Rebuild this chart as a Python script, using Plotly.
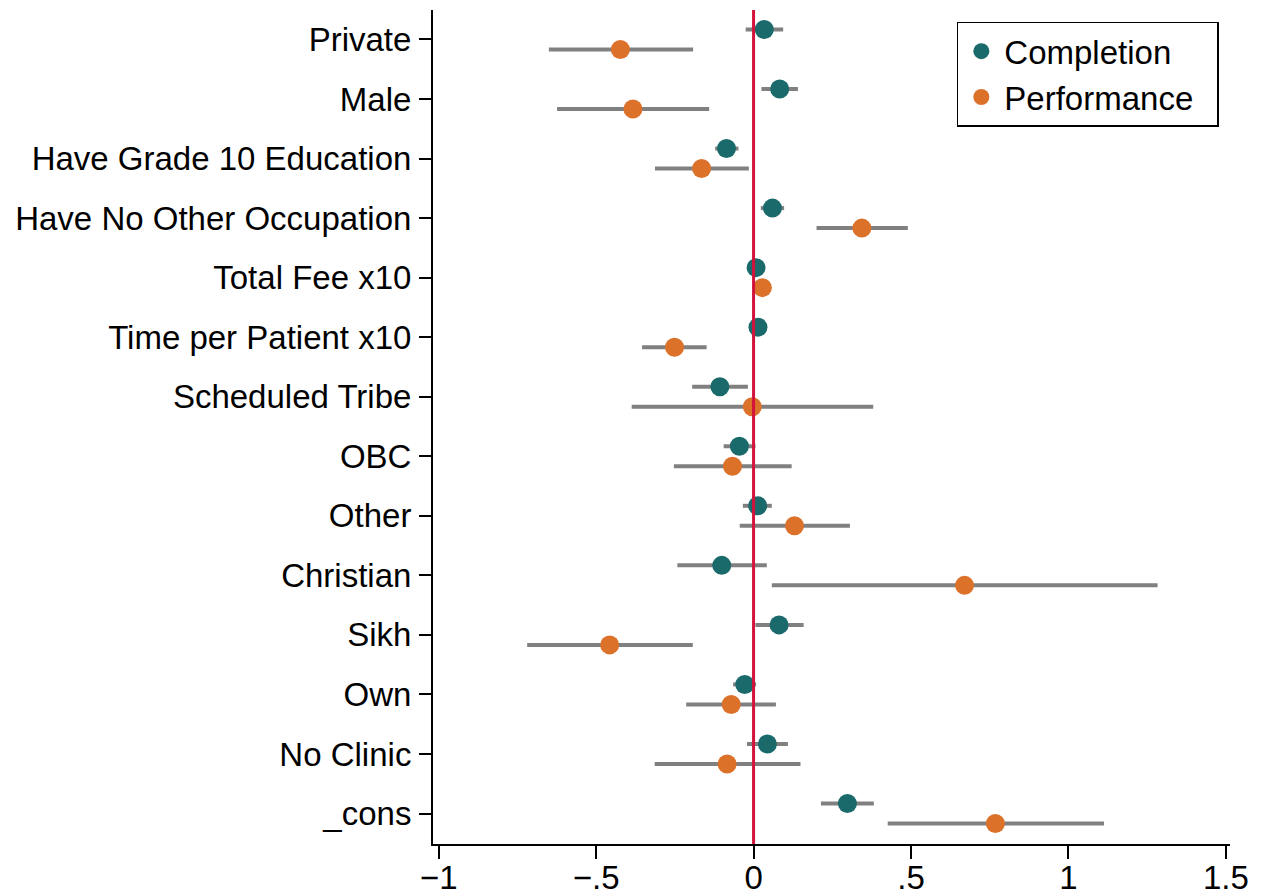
import plotly.graph_objects as go

# Covariates, top to bottom
categories = [
    "Private", "Male", "Have Grade 10 Education", "Have No Other Occupation",
    "Total Fee x10", "Time per Patient x10", "Scheduled Tribe", "OBC", "Other",
    "Christian", "Sikh", "Own", "No Clinic", "_cons",
]

# Completion model: point estimates and 95% CI bounds
completion_est = [0.034, 0.083, -0.086, 0.060, 0.008, 0.014, -0.107, -0.045,
                  0.013, -0.101, 0.081, -0.028, 0.044, 0.298]
completion_lo = [-0.025, 0.025, -0.122, 0.023, -0.004, 0.002, -0.195, -0.095,
                 -0.034, -0.242, 0.006, -0.065, -0.021, 0.214]
completion_hi = [0.094, 0.141, -0.048, 0.097, 0.020, 0.026, -0.018, 0.006,
                 0.058, 0.042, 0.159, 0.008, 0.109, 0.382]

# Performance model: point estimates and 95% CI bounds
performance_est = [-0.423, -0.383, -0.165, 0.344, 0.028, -0.251, -0.004, -0.067,
                   0.130, 0.670, -0.457, -0.071, -0.084, 0.768]
performance_lo = [-0.650, -0.624, -0.313, 0.200, 0.016, -0.354, -0.387, -0.253,
                  -0.044, 0.058, -0.719, -0.214, -0.314, 0.426]
performance_hi = [-0.192, -0.141, -0.015, 0.490, 0.040, -0.149, 0.380, 0.121,
                  0.306, 1.283, -0.193, 0.071, 0.149, 1.113]

x_tick_vals = [-1, -0.5, 0, 0.5, 1, 1.5]
x_tick_text = ["\u22121", "\u2212.5", "0", ".5", "1", "1.5"]

TEAL = "#1a6a6b"
ORANGE = "#dc7129"
CI_GRAY = "#808080"
REF_RED = "#d2143c"
FONT = "Liberation Sans, Arial, sans-serif"
PAD = "\u00a0\u00a0"  # right-hand breathing room inside the legend box

OFFSET = 0.168
Y_TOP, Y_BOTTOM = -0.495, 13.512
X_RANGE = [-1.018, 1.513]

rows = list(range(len(categories)))
y_comp = [r - OFFSET for r in rows]
y_perf = [r + OFFSET for r in rows]

fig = go.Figure()

# Confidence intervals (drawn first so the reference line and points sit on top)
for est, lo, hi, ys in [
    (completion_est, completion_lo, completion_hi, y_comp),
    (performance_est, performance_lo, performance_hi, y_perf),
]:
    fig.add_trace(go.Scatter(
        x=est, y=ys, mode="markers",
        marker=dict(size=1, color="rgba(0,0,0,0)"),
        error_x=dict(
            type="data", symmetric=False,
            array=[h - e for h, e in zip(hi, est)],
            arrayminus=[e - l for e, l in zip(est, lo)],
            color=CI_GRAY, thickness=4, width=0,
        ),
        showlegend=False, hoverinfo="skip",
    ))

# Reference line at zero (on the overlaid label axis, same range as x)
fig.add_trace(go.Scatter(
    x=[0, 0], y=[Y_TOP, Y_BOTTOM], mode="lines", xaxis="x2",
    line=dict(color=REF_RED, width=3),
    showlegend=False, hoverinfo="skip",
))

# Point estimates
fig.add_trace(go.Scatter(
    x=completion_est, y=y_comp, mode="markers", name="Completion" + PAD,
    marker=dict(size=19, color=TEAL, line=dict(width=0)),
))
fig.add_trace(go.Scatter(
    x=performance_est, y=y_perf, mode="markers", name="Performance" + PAD,
    marker=dict(size=19, color=ORANGE, line=dict(width=0)),
))

fig.update_layout(
    width=1264, height=895,
    margin=dict(l=433, r=34, t=10, b=51, autoexpand=False),
    paper_bgcolor="white", plot_bgcolor="white",
    font=dict(family=FONT, size=33, color="black"),
    legend=dict(
        x=0.986, y=0.986, xanchor="right", yanchor="top",
        bordercolor="black", borderwidth=1.5, bgcolor="white",
        font=dict(size=33), itemwidth=36,
    ),
    # tick marks and axis line
    xaxis=dict(
        range=X_RANGE, automargin=False,
        tickvals=x_tick_vals, showticklabels=False,
        showgrid=False, zeroline=False,
        showline=True, linecolor="black", linewidth=2,
        ticks="outside", ticklen=13, tickwidth=2, tickcolor="black",
    ),
    # tick labels
    xaxis2=dict(
        range=X_RANGE, automargin=False, overlaying="x", anchor="y",
        side="bottom",
        tickvals=x_tick_vals, ticktext=x_tick_text,
        showgrid=False, zeroline=False, showline=False, ticks="",
        ticklabelstandoff=11,
    ),
    yaxis=dict(
        range=[Y_BOTTOM, Y_TOP], automargin=False,
        tickvals=rows, ticktext=categories,
        showgrid=False, zeroline=False,
        showline=True, linecolor="black", linewidth=2,
        ticks="outside", ticklen=12, tickwidth=2, tickcolor="black",
        ticklabelstandoff=1,
    ),
)

fig.write_html("out.html")
